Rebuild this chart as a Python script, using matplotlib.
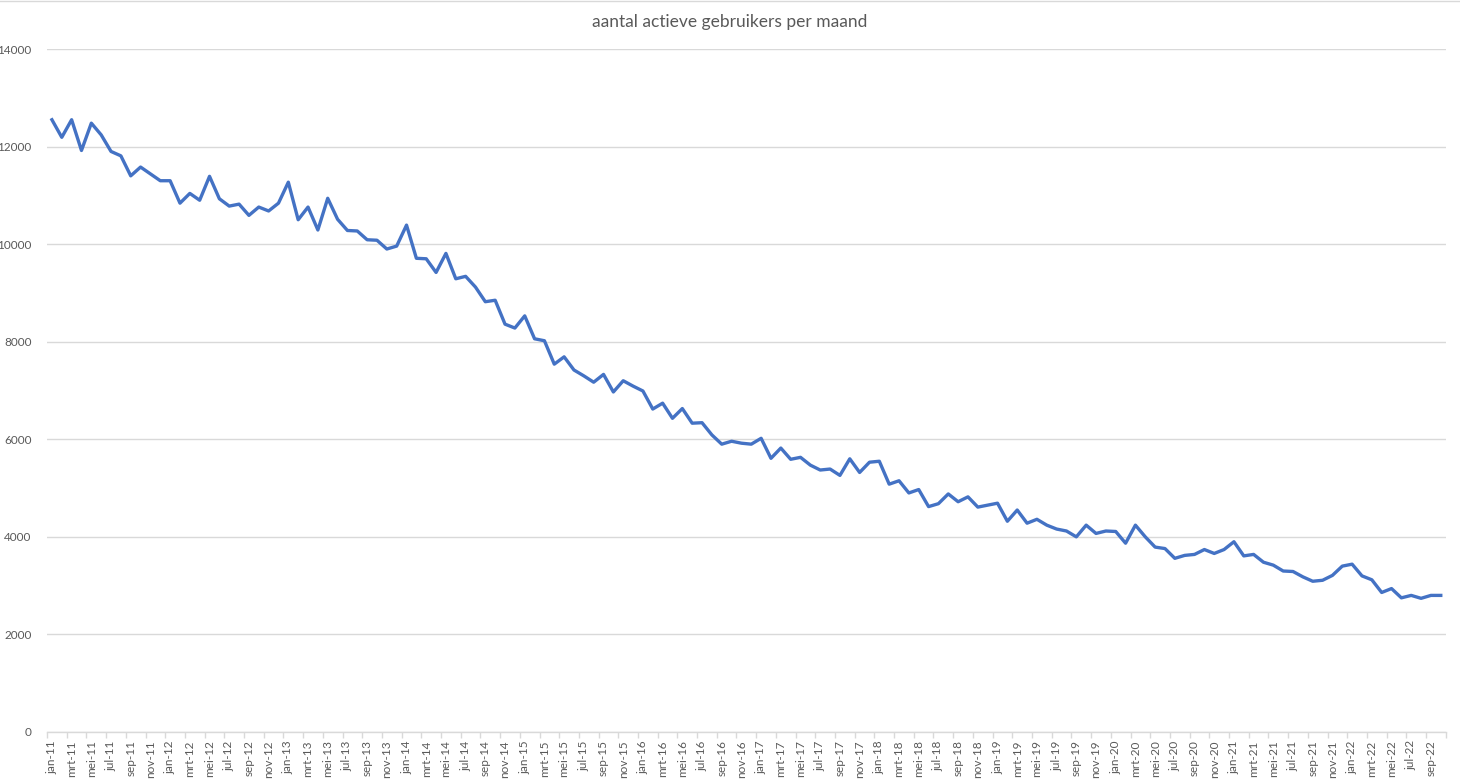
import matplotlib
matplotlib.use("Agg")
import matplotlib.pyplot as plt
from matplotlib.lines import Line2D

plt.rcParams['font.family'] = ['Lato', 'DejaVu Sans']

months_nl = ['jan', 'feb', 'mrt', 'apr', 'mei', 'jun', 'jul', 'aug', 'sep', 'okt', 'nov', 'dec']
years = list(range(11, 23))

v2011 = [12550, 12190, 12550, 11920, 12480, 12240, 11900, 11810, 11400, 11580, 11440, 11300]
v2012 = [11300, 10840, 11040, 10900, 11390, 10930, 10780, 10820, 10590, 10760, 10680, 10840]
v2013 = [11270, 10500, 10760, 10290, 10940, 10510, 10280, 10270, 10090, 10080, 9900, 9960]
v2014 = [10390, 9710, 9700, 9420, 9810, 9290, 9340, 9120, 8820, 8850, 8360, 8280]
v2015 = [8530, 8060, 8020, 7540, 7690, 7420, 7300, 7170, 7330, 6970, 7200, 7090]
v2016 = [6990, 6620, 6740, 6430, 6630, 6330, 6340, 6090, 5900, 5960, 5920, 5900]
v2017 = [6020, 5610, 5820, 5590, 5630, 5470, 5370, 5390, 5260, 5600, 5320, 5530]
v2018 = [5550, 5080, 5150, 4900, 4970, 4620, 4680, 4880, 4720, 4820, 4610, 4650]
v2019 = [4690, 4320, 4550, 4280, 4360, 4240, 4160, 4120, 4000, 4240, 4070, 4120]
v2020 = [4110, 3870, 4240, 4000, 3790, 3760, 3560, 3620, 3640, 3740, 3660, 3740]
v2021 = [3900, 3610, 3640, 3480, 3420, 3300, 3290, 3180, 3090, 3110, 3210, 3400]
v2022 = [3440, 3200, 3120, 2860, 2940, 2750, 2800, 2740, 2800, 2800]

values = (v2011 + v2012 + v2013 + v2014 + v2015 + v2016 + v2017 + v2018
          + v2019 + v2020 + v2021 + v2022)
labels = [f"{m}-{y}" for y in years for m in months_nl][:len(values)]

y_ticks = [0, 2000, 4000, 6000, 8000, 10000, 12000, 14000]

fig = plt.figure(figsize=(14.6, 7.8), dpi=100)
ax = fig.add_axes([47 / 1460, 1 - 732 / 780, (1445.7 - 47) / 1460, (732 - 49) / 780])

x = list(range(len(values)))
ax.plot(x, values, color='#4472C4', linewidth=2.4, solid_joinstyle='round', zorder=3)

ax.set_xlim(-0.5, len(values) - 0.5)
ax.set_ylim(0, 14000)
ax.set_yticks(y_ticks)
ax.set_yticklabels([str(t) for t in y_ticks])
ax.grid(axis='y', color='#d9d9d9', linewidth=1)
ax.set_axisbelow(True)

ax.set_xticks(x[::2])
ax.set_xticklabels(labels[::2], rotation=90)
ax.set_xticks([i - 0.5 for i in range(0, len(values) + 1, 2)], minor=True)
ax.tick_params(axis='x', which='major', length=0, pad=6, labelsize=8.5, colors='#595959')
ax.tick_params(axis='x', which='minor', length=4, width=1, color='#d9d9d9')
ax.tick_params(axis='y', length=0, pad=11, labelsize=8.5, colors='#595959')

for s in ['top', 'right', 'left']:
    ax.spines[s].set_visible(False)
ax.spines['bottom'].set_color('#d9d9d9')
ax.spines['bottom'].set_linewidth(1)

fig.text(0.5, 1 - 22 / 780, 'aantal actieve gebruikers per maand', ha='center', va='center',
         fontsize=12.5, color='#595959')
fig.add_artist(Line2D([0, 1], [0.999, 0.999], transform=fig.transFigure, color='#d9d9d9', linewidth=1))

fig.savefig('out.png', dpi=100, facecolor='white')
